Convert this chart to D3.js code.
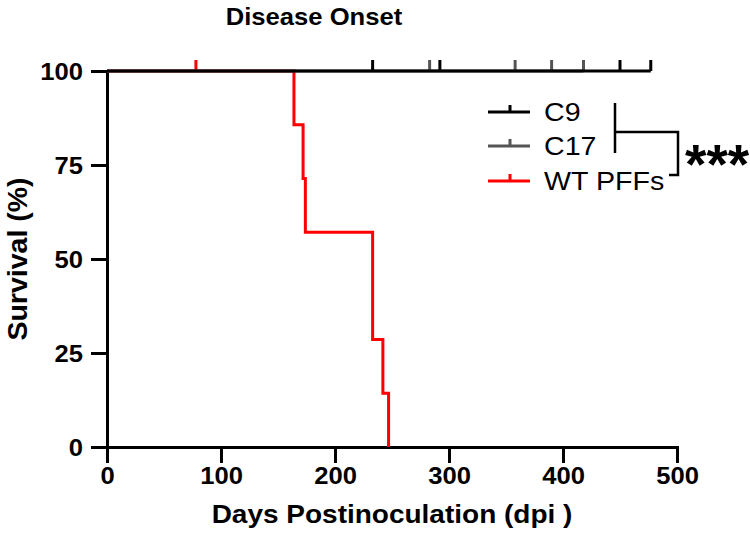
<!DOCTYPE html>
<html>
<head>
<meta charset="utf-8">
<script src="https://cdn.jsdelivr.net/npm/d3@7/dist/d3.min.js"></script>
<style>
  html, body { margin: 0; padding: 0; background: #fff; }
  svg { display: block; font-family: "Liberation Sans", Arial, sans-serif; }
</style>
</head>
<body>
<svg id="chart" width="750" height="533"></svg>
<script>
// ---- data ----
const xTicks = [0, 100, 200, 300, 400, 500];
const yTicks = [0, 25, 50, 75, 100];
const seriesNames = ["C9", "C17", "WT PFFs"];
const seriesColors = ["#000000", "#555555", "#ff0000"];
// Kaplan-Meier steps: event times (days) and survival (%)
const c9Times = [0, 477];
const c9Surv = [100, 100];
const c9Censor = [233, 292, 450, 477];
const c17Times = [0, 418];
const c17Surv = [100, 100];
const c17Censor = [283, 358, 390, 418];
const wtTimes = [0, 164, 172, 174, 233, 242, 247];
const wtSurv = [100, 85.7, 71.4, 57.1, 28.6, 14.3, 0];
const wtCensor = [78];
const titleText = "Disease Onset";
const xLabel = "Days Postinoculation (dpi )";
const yLabel = "Survival (%)";
const sigText = "***";

const svg = d3.select("#chart");
const x = d3.scaleLinear().domain([0, 500]).range([107, 677]);
const y = d3.scaleLinear().domain([0, 100]).range([447, 71]);
const SX = 1.09;

// axes
const yAxis = svg.append("g").attr("transform", `translate(${x(0)},0)`)
  .call(d3.axisLeft(y).tickValues(yTicks).tickSize(16).tickSizeOuter(0).tickFormat(d3.format("d")));
const xAxis = svg.append("g").attr("transform", `translate(0,${y(0)})`)
  .call(d3.axisBottom(x).tickValues(xTicks).tickSize(16).tickSizeOuter(0).tickFormat(d3.format("d")));
[xAxis, yAxis].forEach(g => {
  g.selectAll("path, line").attr("stroke", "#000").attr("stroke-width", 3);
  g.select(".domain").attr("stroke-linecap", "square");
  g.selectAll("text").remove();
});
// tick labels (bold, slightly wide)
yAxis.selectAll(".tick").append("text")
  .attr("transform", `translate(-24,0) scale(${SX},1)`)
  .attr("text-anchor", "end").attr("dy", "0.36em")
  .attr("font-size", 23.5).attr("font-weight", "bold").attr("fill", "#000")
  .text(d => d);
xAxis.selectAll(".tick").append("text")
  .attr("transform", `translate(0,29) scale(${SX},1)`)
  .attr("text-anchor", "middle").attr("dy", "0.36em")
  .attr("font-size", 23.5).attr("font-weight", "bold").attr("fill", "#000")
  .text(d => d);

// survival curves
const line = d3.line().x(d => x(d[0])).y(d => y(d[1])).curve(d3.curveStepAfter);
function survAt(times, surv, t) {
  let s = 100;
  for (let i = 0; i < times.length; i++) if (times[i] <= t) s = surv[i];
  return s;
}
function drawSeries(times, surv, censor, color) {
  svg.append("path")
    .attr("d", line(times.map((t, i) => [t, surv[i]])))
    .attr("fill", "none").attr("stroke", color).attr("stroke-width", 3)
    .attr("stroke-linejoin", "miter");
  svg.selectAll(null).data(censor).enter().append("line")
    .attr("x1", d => x(d)).attr("x2", d => x(d))
    .attr("y1", d => y(survAt(times, surv, d)))
    .attr("y2", d => y(survAt(times, surv, d)) - 11)
    .attr("stroke", color).attr("stroke-width", 3);
}
drawSeries(wtTimes, wtSurv, wtCensor, seriesColors[2]);
drawSeries(c17Times, c17Surv, c17Censor, seriesColors[1]);
drawSeries(c9Times, c9Surv, c9Censor, seriesColors[0]);

// title
svg.append("text")
  .attr("transform", `translate(314,25) scale(${SX},1)`)
  .attr("text-anchor", "middle")
  .attr("font-size", 23.5).attr("font-weight", "bold").text(titleText);
// x label
svg.append("text")
  .attr("transform", `translate(${(x(0) + x(500)) / 2},523) scale(1.12,1)`)
  .attr("text-anchor", "middle")
  .attr("font-size", 25).attr("font-weight", "bold").text(xLabel);
// y label
svg.append("text")
  .attr("transform", `translate(17,${(y(0) + y(100)) / 2}) rotate(-90)`)
  .attr("text-anchor", "middle").attr("dy", "0.36em")
  .attr("font-size", 28.5).attr("font-weight", "bold").text(yLabel);

// legend
const legY = [112, 146, 181];
const leg = svg.append("g");
seriesNames.forEach((name, i) => {
  const g = leg.append("g").attr("transform", `translate(0,${legY[i]})`);
  g.append("line").attr("x1", 488).attr("x2", 530).attr("y1", 0).attr("y2", 0)
    .attr("stroke", seriesColors[i]).attr("stroke-width", 3);
  g.append("line").attr("x1", 510).attr("x2", 510).attr("y1", 0).attr("y2", -7)
    .attr("stroke", seriesColors[i]).attr("stroke-width", 3);
  g.append("text").attr("transform", `translate(544,0) scale(1.1,1)`)
    .attr("dy", "0.36em").attr("font-size", 26).attr("fill", "#000").text(name);
});
// significance bracket
svg.append("path")
  .attr("d", "M615,103V153M615,132H678V175H669")
  .attr("fill", "none").attr("stroke", "#000").attr("stroke-width", 2.5);
svg.append("text").attr("x", 685).attr("y", 183)
  .attr("font-size", 55).attr("font-weight", "bold").text(sigText);
</script>
</body>
</html>
